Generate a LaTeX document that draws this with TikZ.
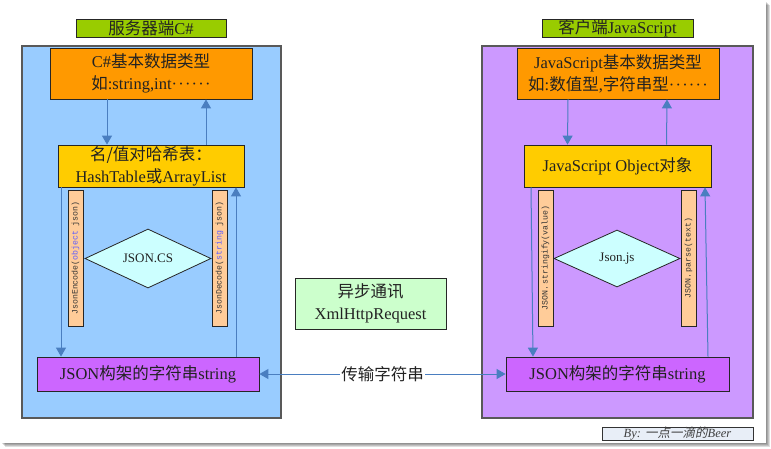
\documentclass[tikz,border=0pt]{standalone}
\usepackage{fontspec}
\setmainfont{Liberation Serif}
\setmonofont{Liberation Mono}
\newfontfamily\cjk{Noto Sans CJK SC}
\newfontfamily\cjkit[FakeSlant=0.2]{Noto Sans CJK SC}
\usetikzlibrary{shapes.geometric,arrows.meta}
\definecolor{panelL}{HTML}{99CCFF}
\definecolor{panelR}{HTML}{CC99FF}
\definecolor{titlegreen}{HTML}{99CC00}
\definecolor{orangebox}{HTML}{FF9900}
\definecolor{yellowbox}{HTML}{FFCC00}
\definecolor{peach}{HTML}{FFCC99}
\definecolor{diamcyan}{HTML}{CCFFFF}
\definecolor{purplebox}{HTML}{CC66FF}
\definecolor{mintbox}{HTML}{CCFFCC}
\definecolor{footbox}{HTML}{E8EEF7}
\definecolor{arrowblue}{HTML}{4A7EC0}
\definecolor{kwblue}{HTML}{5B5BFF}
\definecolor{inktext}{HTML}{222222}
\newcommand\zh[1]{{\cjk #1}}
\newcommand\dotsix{\textperiodcentered\kern1.2pt\textperiodcentered\kern1.2pt\textperiodcentered\kern1.2pt\textperiodcentered\kern1.2pt\textperiodcentered\kern1.2pt\textperiodcentered}
\begin{document}
\begin{tikzpicture}[x=1pt,y=-1pt,
  box/.style={draw=black!85, line width=0.8pt, inner sep=0pt, rectangle, text=inktext,
    font=\fontsize{16.5}{22}\selectfont, align=center},
  panel/.style={draw=black!65, line width=1.2pt, inner sep=0pt, rectangle},
  slim/.style={box, minimum width=15pt, minimum height=136pt, fill=peach},
  vtext/.style={rotate=90, font=\ttfamily\fontsize{8.2}{9}\selectfont, text=black!80, inner sep=0pt},
  dia/.style={diamond, draw=black!85, line width=0.8pt, fill=diamcyan, inner sep=0pt,
    minimum width=126pt, minimum height=57pt, font=\fontsize{13}{15}\selectfont, text=inktext},
  arr/.style={draw=arrowblue, line width=1pt, -{Triangle[width=10pt,length=9pt,fill=arrowblue]}},
  darr/.style={draw=arrowblue, line width=1pt, {Triangle[width=10pt,length=9pt,fill=arrowblue]}-{Triangle[width=10pt,length=9pt,fill=arrowblue]}}
]
\useasboundingbox (0,0) rectangle (771,448);
% page shadow and sheet
\foreach \i in {1,...,5}{
  \fill[black, opacity=0.13] (\i,\i) rectangle (765+\i,442+\i);
}
\fill[white] (0,0) rectangle (766,443);

% ---------- left: server side ----------
\node[box, fill=titlegreen, minimum width=150pt, minimum height=18pt] (titleL) at (151,28) {\zh{服务器端}C\#};
\node[panel, fill=panelL, minimum width=259pt, minimum height=372pt] (panelL) at (151.5,232) {};
\node[box, fill=orangebox, minimum width=202pt, minimum height=51pt] (orangeL) at (151,73.5)
  {C\#\zh{基本数据类型}\\ \zh{如}:string,int\dotsix};
\node[box, fill=yellowbox, minimum width=186pt, minimum height=42pt] (yellowL) at (151,166)
  {\zh{名/值对哈希表：}\\ HashTable\zh{或}ArrayList};
\node[slim] (encL) at (75.5,258) {};
\node[vtext] at (encL) {JsonEncode(\textcolor{kwblue}{object} json)};
\node[slim] (decL) at (219.5,258) {};
\node[vtext] at (decL) {JsonDecode(\textcolor{kwblue}{string} json)};
\node[dia] (diamL) at (148,258.5) {JSON.CS};
\node[box, fill=purplebox, minimum width=222pt, minimum height=34pt] (purpleL) at (148,374)
  {JSON\zh{构架的字符串}string};

\draw[arr] ([xshift=-44pt]orangeL.south) -- ([xshift=-44pt]yellowL.north);
\draw[arr] ([xshift=55pt]yellowL.north) -- ([xshift=55pt]orangeL.south);
\draw[arr] ([xshift=-90pt]yellowL.south) -- ([xshift=-87pt]purpleL.north);
\draw[arr] ([xshift=88pt]purpleL.north) -- ([xshift=85pt]yellowL.south);

% ---------- right: client side ----------
\node[box, fill=titlegreen, minimum width=151pt, minimum height=18pt] (titleR) at (617.5,28) {\zh{客户端}JavaScript};
\node[panel, fill=panelR, minimum width=271pt, minimum height=372pt] (panelR) at (617.5,232) {};
\node[box, fill=orangebox, minimum width=202pt, minimum height=51pt] (orangeR) at (618,73.5)
  {JavaScript\zh{基本数据类型}\\ \zh{如}:\zh{数值型},\zh{字符串型}\dotsix};
\node[box, fill=yellowbox, minimum width=187pt, minimum height=42pt] (yellowR) at (617.5,166)
  {JavaScript Object\zh{对象}};
\node[slim] (strR) at (545.5,258) {};
\node[vtext] at (strR) {JSON.\,stringify(value)};
\node[slim] (parR) at (688.5,258) {};
\node[vtext] at (parR) {JSON.\,parse(text)};
\node[dia] (diamR) at (617,258.5) {Json.js};
\node[box, fill=purplebox, minimum width=223pt, minimum height=34pt] (purpleR) at (617.5,374)
  {JSON\zh{构架的字符串}string};

\draw[arr] ([xshift=-50pt]orangeR.south) -- ([xshift=-50pt]yellowR.north);
\draw[arr] ([xshift=49pt]yellowR.north) -- ([xshift=49pt]orangeR.south);
\draw[arr] ([xshift=-86.5pt]yellowR.south) -- ([xshift=-84.5pt]purpleR.north);
\draw[arr] ([xshift=90.5pt]purpleR.north) -- ([xshift=87.5pt]yellowR.south);

% ---------- middle ----------
\node[box, fill=mintbox, minimum width=151pt, minimum height=51pt] (mid) at (370.5,303.5)
  {\zh{异步通讯}\\ XmlHttpRequest};
\draw[darr] (purpleL.east) -- node[fill=white, inner sep=1pt, text=inktext,
  font=\fontsize{16.5}{20}\selectfont] (lbl) {\zh{传输字符串}} (purpleR.west);

% ---------- footer ----------
\node[draw=black!80, line width=0.7pt, fill=footbox, minimum width=151pt, minimum height=11pt,
  inner sep=0pt, text=black!75, font=\itshape\fontsize{12.5}{12}\selectfont] (foot) at (677.5,433.5)
  {By: {\cjkit 一点一滴的}Beer};
\end{tikzpicture}
\end{document}
